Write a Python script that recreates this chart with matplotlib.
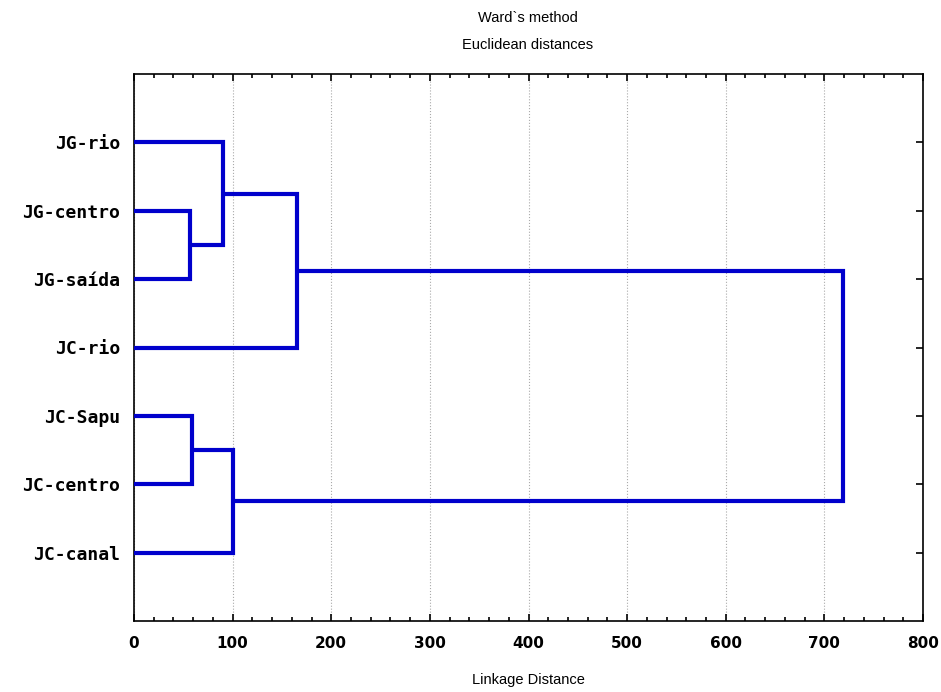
import numpy as np
import matplotlib
matplotlib.use("Agg")
import matplotlib.pyplot as plt
from matplotlib.ticker import MultipleLocator

# Folhas, de cima para baixo
labels = ["JG-rio", "JG-centro", "JG-saída", "JC-rio", "JC-Sapu", "JC-centro", "JC-canal"]

# Junções: índices das folhas 0..6, clusters novos a partir de 7
# 7 = (JG-centro, JG-saída), 8 = (JC-Sapu, JC-centro), 9 = (JG-rio, 7)
# 10 = (8, JC-canal), 11 = (9, JC-rio), 12 = (11, 10)
merge_a = [1, 4, 0, 8, 9, 11]
merge_b = [2, 5, 7, 6, 3, 10]
merge_h = [57, 59, 90, 100, 165, 719]

fig = plt.figure(figsize=(9.41, 6.92), dpi=100)
ax = fig.add_axes([134 / 941, 1 - 621 / 692, (923 - 134) / 941, (621 - 74) / 692])

pos = {i: (0.0, i + 1.0) for i in range(len(labels))}
for k, (a, b, h) in enumerate(zip(merge_a, merge_b, merge_h)):
    xa, ya = pos[a]
    xb, yb = pos[b]
    ax.plot([xa, h, h, xb], [ya, ya, yb, yb], color="#0000cc", lw=3,
            solid_joinstyle="miter", solid_capstyle="butt", zorder=3)
    pos[len(labels) + k] = (h, (ya + yb) / 2)

ax.set_xlim(0, 800)
ax.set_ylim(8, 0)
ax.xaxis.set_major_locator(MultipleLocator(100))
ax.xaxis.set_minor_locator(MultipleLocator(20))
ax.set_yticks(range(1, len(labels) + 1))
ax.set_yticklabels(labels)
ax.grid(axis="x", which="major", color="#aaaaaa", linestyle=":", lw=0.8)

ax.tick_params(axis="x", which="both", direction="in", top=True, bottom=True, width=1.2)
ax.tick_params(axis="x", which="major", length=5, pad=11)
ax.tick_params(axis="x", which="minor", length=3)
ax.tick_params(axis="y", which="both", direction="in", left=False, right=True,
               length=5, width=1.2, pad=10)
for s in ax.spines.values():
    s.set_linewidth(1.2)

for t in ax.get_xticklabels():
    t.set_fontweight("bold")
    t.set_fontsize(11)
    t.set_family("DejaVu Sans")
for t in ax.get_yticklabels():
    t.set_fontweight("bold")
    t.set_fontsize(13)
    t.set_family("DejaVu Sans Mono")

fig.text(528 / 941, 1 - 18 / 692, "Ward`s method", ha="center", va="center",
         fontsize=10.5, family="Liberation Sans")
fig.text(528 / 941, 1 - 45 / 692, "Euclidean distances", ha="center", va="center",
         fontsize=10.5, family="Liberation Sans")
fig.text(528 / 941, 1 - 680 / 692, "Linkage Distance", ha="center", va="center",
         fontsize=10.5, family="Liberation Sans")

fig.savefig("out.png", dpi=100)
